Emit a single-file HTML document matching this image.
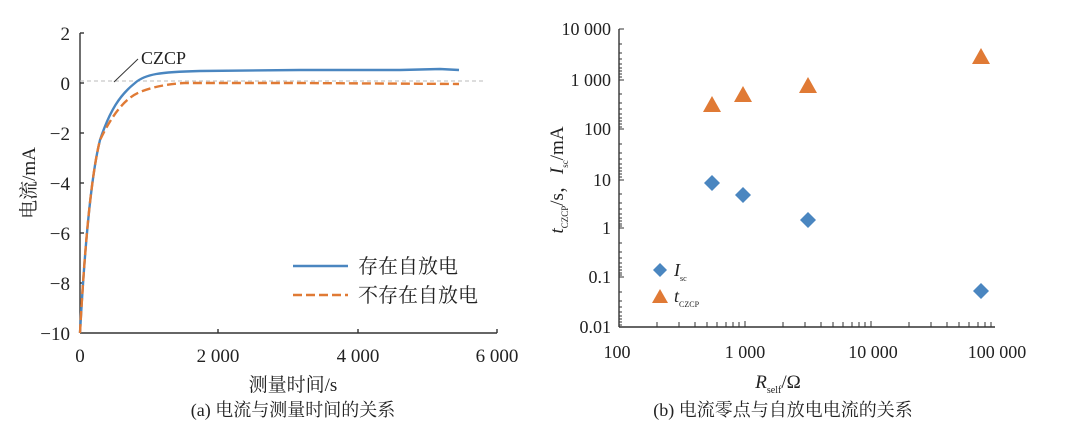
<!DOCTYPE html>
<html><head><meta charset="utf-8"><style>
body{margin:0;background:#fff;}
svg text{font-family:"Liberation Serif","Noto Serif CJK SC",serif;fill:#222;}
</style></head><body>
<svg width="1069" height="432" viewBox="0 0 1069 432" xmlns="http://www.w3.org/2000/svg">
<!-- LEFT CHART -->
<g stroke="#333" stroke-width="1.4" fill="none">
<line x1="80" y1="33" x2="80" y2="333"/>
<line x1="80" y1="333" x2="497" y2="333"/>
<line x1="80" y1="33" x2="84" y2="33"/><line x1="80" y1="83" x2="84" y2="83"/><line x1="80" y1="133" x2="84" y2="133"/><line x1="80" y1="183" x2="84" y2="183"/><line x1="80" y1="233" x2="84" y2="233"/><line x1="80" y1="283" x2="84" y2="283"/>
<line x1="218" y1="333" x2="218" y2="329"/><line x1="358" y1="333" x2="358" y2="329"/><line x1="497" y1="333" x2="497" y2="329"/>
</g>
<line x1="80" y1="81" x2="485" y2="81" stroke="#bbb" stroke-width="1" stroke-dasharray="4,3"/>
<line x1="114" y1="82" x2="138" y2="59" stroke="#333" stroke-width="1"/>
<text x="141" y="64" font-size="18">CZCP</text>
<g font-size="19" text-anchor="end">
<text x="70" y="40">2</text><text x="70" y="90">0</text><text x="70" y="140">−2</text><text x="70" y="190">−4</text><text x="70" y="240">−6</text><text x="70" y="290">−8</text><text x="70" y="340">−10</text>
</g>
<g font-size="19" text-anchor="middle">
<text x="80" y="362">0</text><text x="218" y="362">2 000</text><text x="358" y="362">4 000</text><text x="497" y="362">6 000</text>
</g>
<text x="293" y="391" font-size="19" text-anchor="middle">测量时间/s</text>
<text x="293" y="416" font-size="18" text-anchor="middle">(a)  电流与测量时间的关系</text>
<text transform="translate(35,183) rotate(-90)" font-size="19" text-anchor="middle">电流/mA</text>
<path d="M80,333 C84,260 90,180 100,140 C110,110 120,95 135,83 C145,74 160,72 200,71 L300,70 L400,70 L440,69 L459,70" stroke="#4a86c0" stroke-width="2.4" fill="none"/>
<path d="M80,333 C84,260 90,180 100,140 C112,115 125,98 140,92 C155,86 170,84 184,83 L300,83 L459,84" stroke="#e07a35" stroke-width="2.4" fill="none" stroke-dasharray="9,4"/>
<line x1="293" y1="266" x2="348" y2="266" stroke="#4a86c0" stroke-width="2.6"/>
<line x1="293" y1="295" x2="348" y2="295" stroke="#e07a35" stroke-width="2.6" stroke-dasharray="9,4"/>
<text x="358" y="273" font-size="20">存在自放电</text>
<text x="358" y="302" font-size="20">不存在自放电</text>

<!-- RIGHT CHART -->
<g stroke="#333" stroke-width="1.4" fill="none">
<line x1="619" y1="29" x2="619" y2="327"/>
<line x1="619" y1="327" x2="995" y2="327"/>
</g>
<g stroke="#333" stroke-width="1">
<path d="M619,29h5M619,80h5M619,129h5M619,180h5M619,228h5M619,277h5M619,327h5
M619,44h3M619,53h3M619,59h3M619,64h3M619,68h3M619,71h3M619,74h3M619,77h3
M619,94h3M619,103h3M619,109h3M619,114h3M619,118h3M619,121h3M619,124h3M619,127h3
M619,144h3M619,153h3M619,159h3M619,164h3M619,168h3M619,171h3M619,174h3M619,177h3
M619,194h3M619,203h3M619,209h3M619,214h3M619,218h3M619,221h3M619,224h3M619,226h3
M619,243h3M619,252h3M619,258h3M619,263h3M619,267h3M619,270h3M619,273h3M619,275h3
M619,292h3M619,301h3M619,307h3M619,312h3M619,316h3M619,319h3M619,322h3M619,325h3"/>
<path d="M657,327v-5M679,327v-5M695,327v-5M707,327v-5M717,327v-5M726,327v-5M733,327v-5M739,327v-5M745,327v-6
M783,327v-5M805,327v-5M821,327v-5M833,327v-5M843,327v-5M852,327v-5M859,327v-5M865,327v-5M871,327v-6
M909,327v-5M931,327v-5M947,327v-5M959,327v-5M969,327v-5M978,327v-5M985,327v-5M991,327v-5"/>
</g>
<g font-size="18" text-anchor="end">
<text x="611" y="35">10 000</text><text x="611" y="86">1 000</text><text x="611" y="135">100</text><text x="611" y="186">10</text><text x="611" y="234">1</text><text x="611" y="283">0.1</text><text x="611" y="333">0.01</text>
</g>
<g font-size="18" text-anchor="middle">
<text x="617" y="358">100</text><text x="745" y="358">1 000</text><text x="873" y="358">10 000</text><text x="997" y="358">100 000</text>
</g>
<text x="778" y="388" font-size="19" text-anchor="middle"><tspan font-style="italic">R</tspan><tspan font-size="10" dy="5">self</tspan><tspan dy="-5">/Ω</tspan></text>
<text x="783" y="416" font-size="18" text-anchor="middle">(b)  电流零点与自放电电流的关系</text>
<text transform="translate(563,180) rotate(-90)" font-size="19" text-anchor="middle"><tspan font-style="italic">t</tspan><tspan font-size="9" dy="5">CZCP</tspan><tspan dy="-5">/s，</tspan><tspan font-style="italic">I</tspan><tspan font-size="9" dy="5">sc</tspan><tspan dy="-5">/mA</tspan></text>
<g fill="#e07a35">
<polygon points="712,96 721,112 703,112"/><polygon points="743,86 752,102 734,102"/><polygon points="808,77 817,93 799,93"/><polygon points="981,48 990,64 972,64"/>
<polygon points="660,289 668,303 652,303"/>
</g>
<g fill="#4a86c0">
<polygon points="712,175 720,183 712,191 704,183"/><polygon points="743,187 751,195 743,203 735,195"/><polygon points="808,212 816,220 808,228 800,220"/><polygon points="981,283 989,291 981,299 973,291"/>
<polygon points="660,263 667,270 660,277 653,270"/>
</g>
<text x="674" y="276" font-size="18" font-style="italic">I<tspan font-size="8" font-style="normal" dy="5">sc</tspan></text>
<text x="674" y="302" font-size="18" font-style="italic">t<tspan font-size="8" font-style="normal" dy="5">CZCP</tspan></text>
</svg>
</body></html>
